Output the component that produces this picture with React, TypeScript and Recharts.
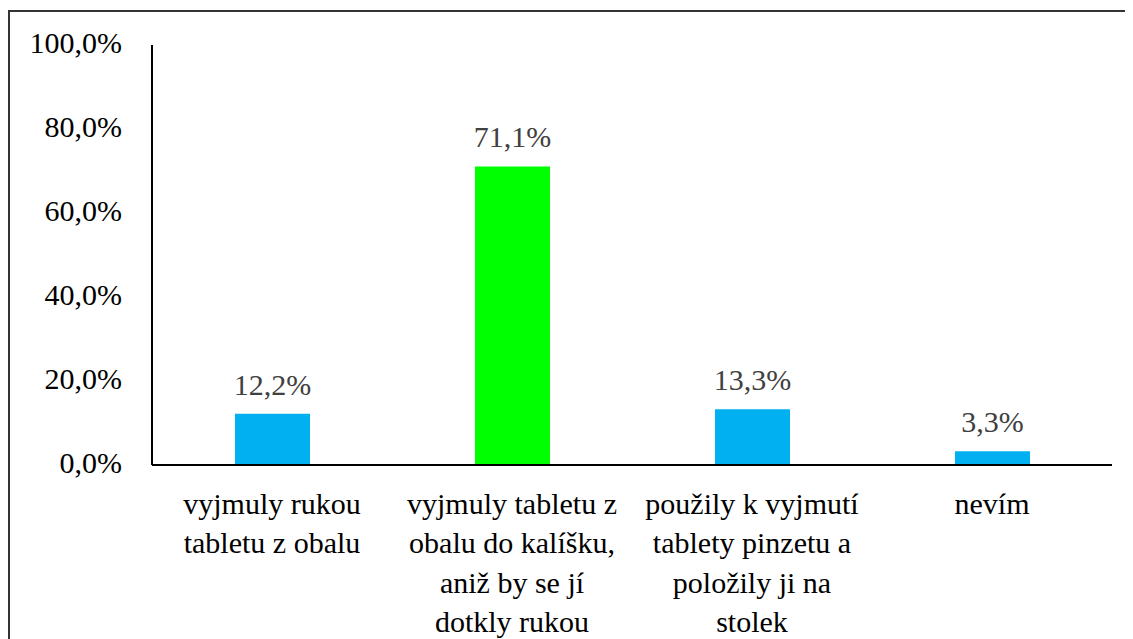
import React from "react";
import { BarChart, Bar, XAxis, YAxis, Cell, LabelList } from "recharts";

const categories = [
  "vyjmuly rukou\ntabletu z obalu",
  "vyjmuly tabletu z\nobalu do kalíšku,\naniž by se jí\ndotkly rukou",
  "použily k vyjmutí\ntablety pinzetu a\npoložily ji na\nstolek",
  "nevím",
];
const values = [12.2, 71.1, 13.3, 3.3];
const barColors = ["#00B0F0", "#00FF00", "#00B0F0", "#00B0F0"];
const yTicks = [0, 20, 40, 60, 80, 100];

const data = categories.map((c, i) => ({ name: c, value: values[i] }));

const FONT = "Liberation Serif";
const fmt = (v: number) => v.toFixed(1).replace(".", ",") + "%";

const XTick = (props: any) => {
  const { x, y, payload } = props;
  const lines = String(payload.value).split("\n");
  return (
    <g>
      {lines.map((l, i) => (
        <text
          key={i}
          x={x}
          y={y + 49 + i * 39.3}
          textAnchor="middle"
          fontFamily={FONT}
          fontSize={30}
          fill="#000"
          className="serif-t"
        >
          {l}
        </text>
      ))}
    </g>
  );
};

const YTick = (props: any) => {
  const { x, y, payload } = props;
  return (
    <text x={x} y={y + 8} textAnchor="end" fontFamily={FONT} fontSize={30} fill="#000" className="serif-t">
      {fmt(payload.value)}
    </text>
  );
};

const DataLabel = (props: any) => {
  const { x, y, width, value } = props;
  return (
    <text
      x={x + width / 2}
      y={y - 19}
      textAnchor="middle"
      fontFamily={FONT}
      fontSize={30}
      fill="#404040"
      className="serif-t"
    >
      {fmt(value)}
    </text>
  );
};

const css = `
html body #root #cw #cw2 .recharts-wrapper svg text.serif-t.serif-t,
html body #root #cw #cw2 svg text,
html body #root #cw #cw2 svg tspan {
  font-family: 'Liberation Serif', serif !important;
  font-size: 30px !important;
}
`;

export default function App() {
  return (
    <div id="cw" style={{ position: "relative", width: 1125, height: 631, overflow: "hidden" }}>
      <style>{css}</style>
      <div
        style={{
          position: "absolute",
          left: 0,
          top: 2,
          width: 1200,
          height: 700,
          border: "2px solid #333",
          boxSizing: "border-box",
        }}
      />
      <div id="cw2" style={{ position: "absolute", left: 0, top: 0, fontFamily: FONT }}>
        <BarChart
          width={1125}
          height={631}
          data={data}
          margin={{ top: 37, right: 21, bottom: 0, left: 14 }}
          barCategoryGap={0}
        >
          <XAxis
            dataKey="name"
            height={174}
            interval={0}
            tickLine={false}
            tickSize={0}
            tickMargin={0}
            axisLine={{ stroke: "#000", strokeWidth: 2 }}
            tick={XTick}
          />
          <YAxis
            width={130}
            domain={[0, 100]}
            ticks={yTicks}
            tickLine={false}
            tickSize={0}
            tickMargin={30}
            axisLine={{ stroke: "#000", strokeWidth: 2 }}
            tick={YTick}
          />
          <Bar dataKey="value" barSize={75} isAnimationActive={false}>
            {data.map((d, i) => (
              <Cell key={i} fill={barColors[i]} />
            ))}
            <LabelList dataKey="value" content={DataLabel} />
          </Bar>
        </BarChart>
      </div>
    </div>
  );
}
